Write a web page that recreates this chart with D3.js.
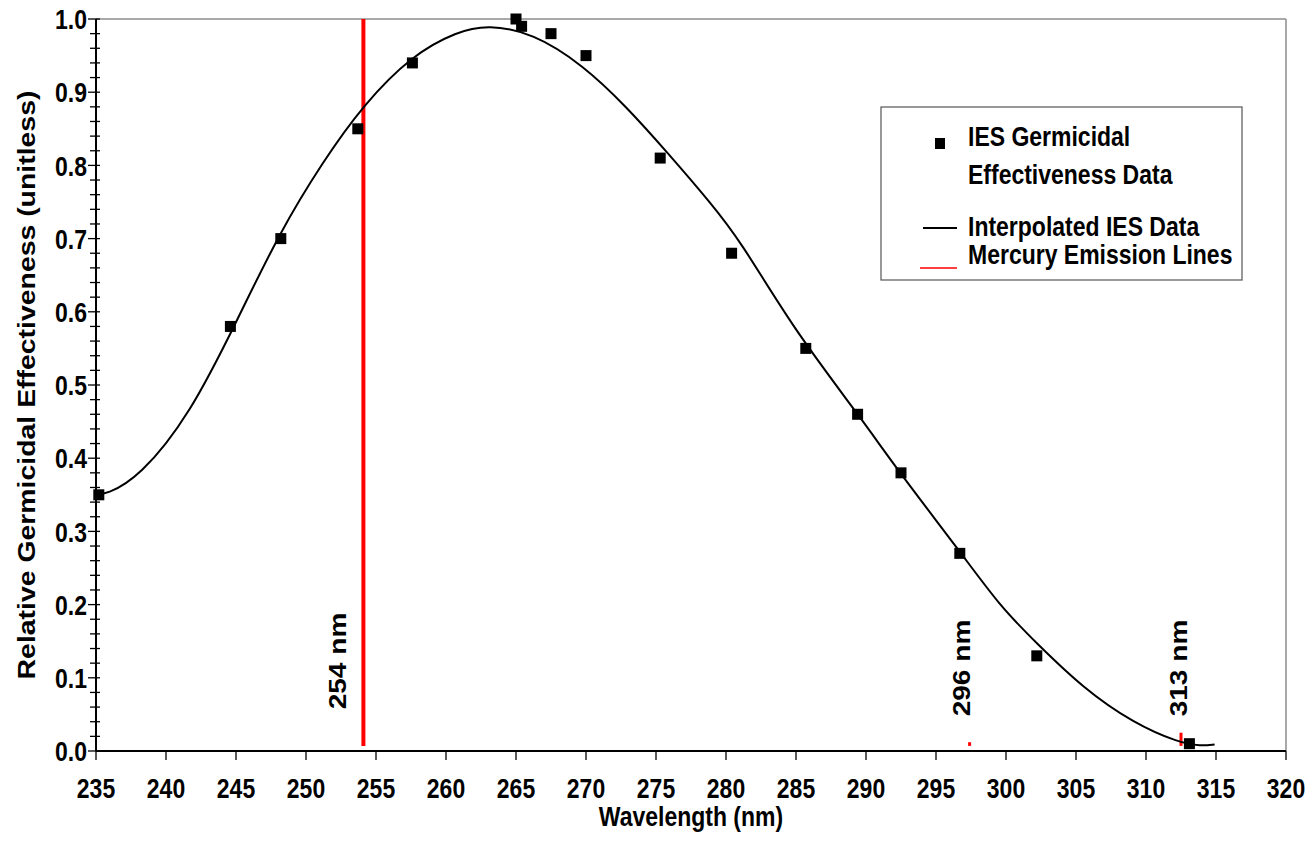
<!DOCTYPE html>
<html>
<head>
<meta charset="utf-8">
<script src="https://cdn.jsdelivr.net/npm/d3@7"></script>
<style>
body { margin: 0; background: #fff; }
text { font-family: "Liberation Sans", Arial, sans-serif; font-weight: bold; fill: #000; }
</style>
</head>
<body>
<div id="chart"></div>
<script>
var width = 1306;
var height = 855;

// IES germicidal effectiveness data points
var dataWl = [235.2, 244.6, 248.2, 253.7, 257.6, 265.0, 265.4, 267.5, 270.0, 275.3, 280.4, 285.7, 289.4, 292.5, 296.7, 302.2, 313.1];
var dataVal = [0.35, 0.58, 0.70, 0.85, 0.94, 1.00, 0.99, 0.98, 0.95, 0.81, 0.68, 0.55, 0.46, 0.38, 0.27, 0.13, 0.01];

// interpolated curve
var curveWl = [235.0, 235.7, 238.1, 241.7, 245.1, 248.1, 251.2, 254.1, 257.6, 260.8, 263.0, 266.2, 269.8, 272.9, 275.8, 278.9, 281.0, 284.8, 289.6, 292.4, 296.7, 299.6, 302.2, 305.5, 309.1, 312.4, 313.9, 314.9];
var curveVal = [0.352, 0.350, 0.374, 0.459, 0.589, 0.708, 0.805, 0.883, 0.951, 0.983, 0.992, 0.981, 0.937, 0.880, 0.818, 0.749, 0.698, 0.577, 0.456, 0.380, 0.273, 0.197, 0.147, 0.086, 0.038, 0.011, 0.007, 0.009];

// mercury emission lines
var lineWl = [254.1, 297.4, 312.5];
var lineTop = [1.0, 0.012, 0.025];
var lineBase = 0.007;
var lineLabels = ["254 nm", "296 nm", "313 nm"];

var xTicks = [235, 240, 245, 250, 255, 260, 265, 270, 275, 280, 285, 290, 295, 300, 305, 310, 315, 320];
var yTicks = [0.0, 0.1, 0.2, 0.3, 0.4, 0.5, 0.6, 0.7, 0.8, 0.9, 1.0];

var plotL = 96, plotR = 1286, plotT = 19, plotB = 751;
var stretch = 1.22; // the reference's text is stretched vertically

var svg = d3.select("#chart").append("svg")
  .attr("width", width)
  .attr("height", height);

var xScale = d3.scaleLinear().domain([235, 320]).range([plotL, plotR]);
var yScale = d3.scaleLinear().domain([0, 1]).range([plotB, plotT]);

function label(x, y, str, size, anchor, rot) {
  var tr = "translate(" + x + "," + y + ")";
  if (rot) tr += " rotate(" + rot + ") scale(" + stretch + ",1)";
  else tr += " scale(1," + stretch + ")";
  svg.append("text")
    .attr("transform", tr)
    .attr("font-size", size)
    .attr("text-anchor", anchor)
    .attr("dy", "0.36em")
    .text(str);
}

// frame (top / right in grey)
svg.append("line").attr("x1", plotL).attr("x2", plotR).attr("y1", plotT).attr("y2", plotT)
  .attr("stroke", "#8c8c8c").attr("stroke-width", 1.5);
svg.append("line").attr("x1", plotR).attr("x2", plotR).attr("y1", plotT).attr("y2", plotB)
  .attr("stroke", "#8c8c8c").attr("stroke-width", 1.5);

// y axis with minor ticks
var yMinor = d3.range(0, 51).map(function(i) { return i / 50; });
svg.append("g").selectAll("line").data(yMinor).enter().append("line")
  .attr("x1", function(d, i) { return i % 5 === 0 ? plotL - 8 : plotL - 6; })
  .attr("x2", plotL + 4)
  .attr("y1", function(d) { return yScale(d); })
  .attr("y2", function(d) { return yScale(d); })
  .attr("stroke", "#000").attr("stroke-width", 1.3);
svg.append("line").attr("x1", plotL).attr("x2", plotL).attr("y1", plotT).attr("y2", plotB)
  .attr("stroke", "#000").attr("stroke-width", 2);
yTicks.forEach(function(d) {
  label(plotL - 9, yScale(d), d.toFixed(1), 23, "end");
});

// x axis
svg.append("g").selectAll("line").data(xTicks).enter().append("line")
  .attr("x1", function(d) { return xScale(d); })
  .attr("x2", function(d) { return xScale(d); })
  .attr("y1", plotB).attr("y2", plotB + 9)
  .attr("stroke", "#000").attr("stroke-width", 1.3);
svg.append("line").attr("x1", plotL).attr("x2", plotR).attr("y1", plotB).attr("y2", plotB)
  .attr("stroke", "#000").attr("stroke-width", 2);
xTicks.forEach(function(d) {
  label(xScale(d), 788, d, 23, "middle");
});

label(691, 816, "Wavelength (nm)", 23, "middle");
label(27, 385, "Relative Germicidal Effectiveness (unitless)", 23.3, "middle", -90);

// emission lines
lineWl.forEach(function(w, i) {
  svg.append("line")
    .attr("x1", xScale(w)).attr("x2", xScale(w))
    .attr("y1", yScale(lineBase)).attr("y2", yScale(lineTop[i]))
    .attr("stroke", "#ff0000").attr("stroke-width", i === 0 ? 4 : 3);
});
var labelX = [338, 962, 1179];
var labelY = [661, 668, 668];
lineLabels.forEach(function(t, i) {
  label(labelX[i], labelY[i], t, 23, "middle", -90);
});

// interpolated curve
var pts = curveWl.map(function(w, i) { return [w, curveVal[i]]; });
var line = d3.line()
  .x(function(d) { return xScale(d[0]); })
  .y(function(d) { return yScale(d[1]); })
  .curve(d3.curveBasis);
svg.append("path").datum(pts)
  .attr("d", line)
  .attr("fill", "none")
  .attr("stroke", "#000")
  .attr("stroke-width", 2);

// data squares
var sq = 11;
svg.append("g").selectAll("rect").data(dataWl).enter().append("rect")
  .attr("x", function(d) { return xScale(d) - sq / 2; })
  .attr("y", function(d, i) { return yScale(dataVal[i]) - sq / 2; })
  .attr("width", sq).attr("height", sq)
  .attr("fill", "#000");

// legend
var lg = svg.append("g");
lg.append("rect").attr("x", 881).attr("y", 107).attr("width", 361).attr("height", 173)
  .attr("fill", "#fff").attr("stroke", "#555").attr("stroke-width", 1.2);
lg.append("rect").attr("x", 935).attr("y", 138).attr("width", 10).attr("height", 11).attr("fill", "#000");
svg.append("line").attr("x1", 923).attr("x2", 957).attr("y1", 228).attr("y2", 228)
  .attr("stroke", "#000").attr("stroke-width", 1.8);
svg.append("line").attr("x1", 920).attr("x2", 957).attr("y1", 268).attr("y2", 268)
  .attr("stroke", "#ff0000").attr("stroke-width", 1.5);
function legText(x, y, str) {
  label(x, y, str, 23, "start");
}
legText(968, 136, "IES Germicidal");
legText(968, 174, "Effectiveness Data");
legText(968, 226, "Interpolated IES Data");
legText(968, 254, "Mercury Emission Lines");
</script>
</body>
</html>
